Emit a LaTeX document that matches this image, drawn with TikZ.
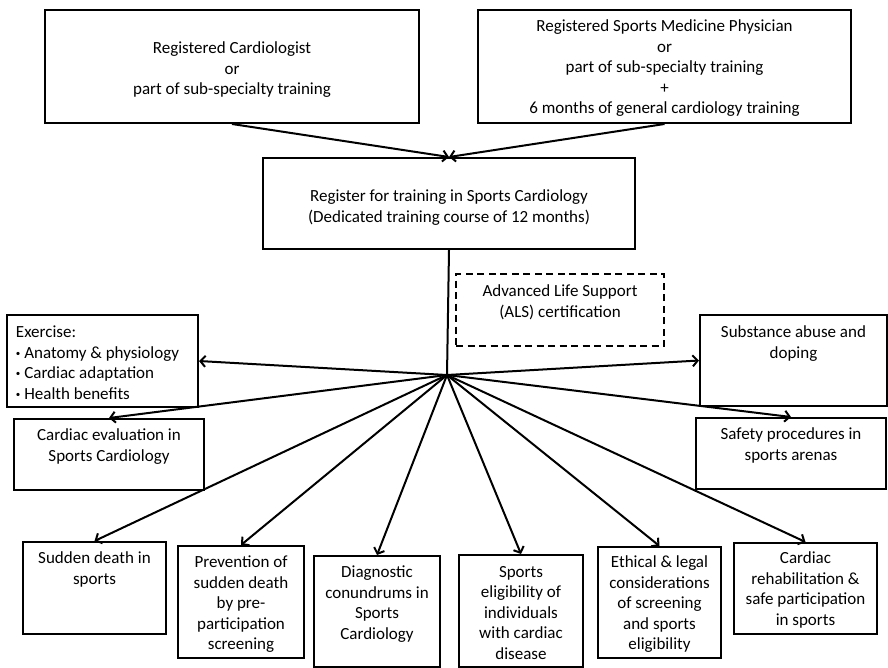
\documentclass[tikz,border=0pt]{standalone}
\usepackage{fontspec}
\setmainfont{Carlito}
\usetikzlibrary{arrows.meta}
% text of a box: width, height, top gap, lines
\newcommand{\boxtext}[5][\centering]{\parbox[c][#3][t]{#2}{\vspace*{#4}#1#5\par}}
\newcommand{\dotitem}{\raisebox{.25ex}{\small\textbullet}\ }

\begin{document}
\begin{tikzpicture}[x=1pt,y=-1pt,
  box/.style={draw, line width=2pt, inner sep=0pt, anchor=north west, font=\fontsize{17}{20.5}\selectfont},
  alsbox/.style={box, dash pattern=on 7pt off 4.5pt},
  arr/.style={-{Straight Barb[length=5pt,width=11pt,line width=2pt]}, line width=2pt}]
\useasboundingbox (0,0) rectangle (888,667);
% entry routes
\node[box] (cardio) at (44,9) {\boxtext{374pt}{113pt}{32pt}{Registered Cardiologist\\or\\part of sub-specialty training}};
\node[box] (sportsmed) at (477,9) {\boxtext{373pt}{113pt}{10pt}{Registered Sports Medicine Physician\\or\\part of sub-specialty training\\+\\6 months of general cardiology training}};
\node[box] (course) at (262,157) {\boxtext{372pt}{91pt}{32pt}{Register for training in Sports Cardiology\\(Dedicated training course of 12 months)}};
\node[alsbox] (als) at (455,273) {\boxtext{208pt}{72pt}{11pt}{Advanced Life Support\\(ALS) certification}};
\coordinate (hub) at (447,375);
% side topics
\node[box] (exer) at (6,314) {\boxtext[\raggedright\leftskip=9pt]{191pt}{92pt}{11pt}{Exercise:\\\dotitem Anatomy \& physiology\\\dotitem Cardiac adaptation\\\dotitem Health benefits}};
\node[box] (ceval) at (13,418) {\boxtext{190pt}{71pt}{10pt}{Cardiac evaluation in\\Sports Cardiology}};
\node[box] (subst) at (699,314) {\boxtext{187pt}{91pt}{11pt}{Substance abuse and\\doping}};
\node[box] (safety) at (695,417) {\boxtext{190pt}{71pt}{10pt}{Safety procedures in\\sports arenas}};
% bottom row
\node[box] (sudden) at (22,541) {\boxtext{143pt}{92pt}{10pt}{Sudden death in\\sports}};
\node[box] (prev) at (177,545) {\boxtext{126pt}{112pt}{10pt}{Prevention of\\sudden death\\by pre-\\participation\\screening}};
\node[box] (diag) at (313,555) {\boxtext{126pt}{111pt}{10pt}{Diagnostic\\conundrums in\\Sports\\Cardiology}};
\node[box] (elig) at (458,554) {\boxtext{124pt}{112pt}{11pt}{Sports\\eligibility of\\individuals\\with cardiac\\disease}};
\node[box] (ethic) at (597,546) {\boxtext{123pt}{111pt}{9pt}{Ethical \& legal\\considerations\\of screening\\and sports\\eligibility}};
\node[box] (rehab) at (733,542) {\boxtext{143pt}{91pt}{9pt}{Cardiac\\rehabilitation \&\\safe participation\\in sports}};
% connectors
\draw[arr] (cardio.south) -- (course.north);
\draw[arr] (sportsmed.south) -- (course.north);
\draw[line width=2pt] (course.south) -- (hub);
\foreach \t in {exer.east, ceval.north, subst.west, safety.north, sudden.north, prev.north, diag.north, elig.north, ethic.north, rehab.north}
  \draw[arr] (hub) -- (\t);
\end{tikzpicture}
\end{document}
